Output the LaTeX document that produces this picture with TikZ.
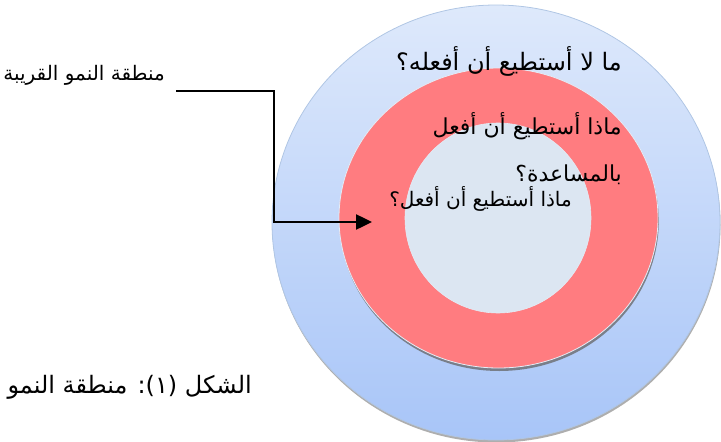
\documentclass[tikz,border=0pt]{standalone}
\usepackage{fontspec}
\usetikzlibrary{shapes.geometric,shadows,arrows.meta}
\newfontfamily\arabicfont[Script=Arabic]{DejaVu Sans}
\TeXXeTstate=1
\definecolor{skytop}{RGB}{222,233,251}
\definecolor{skybot}{RGB}{168,197,248}
\definecolor{skyrim}{RGB}{176,198,228}
\definecolor{rosefill}{RGB}{255,124,128}
\definecolor{corefill}{RGB}{220,230,242}
\definecolor{rimlight}{RGB}{228,236,246}
\tikzset{
  disc/.style={ellipse, inner sep=0pt},
  bigtext/.style={font=\arabicfont\fontsize{24}{28}\selectfont, inner sep=0pt, anchor=base east},
  midtext/.style={font=\arabicfont\fontsize{22}{26}\selectfont, inner sep=0pt, anchor=base east},
  smalltext/.style={font=\arabicfont\fontsize{20}{24}\selectfont, inner sep=0pt, anchor=base east},
  pointer/.style={line width=2.5pt, -{Triangle[length=16pt,width=15pt]}}
}
\begin{document}
\begin{tikzpicture}[x=1pt,y=-1pt]
\useasboundingbox (0,0) rectangle (721,442);
% three nested zones
\node[disc, minimum width=448pt, minimum height=435pt,
      top color=skytop, bottom color=skybot, draw=skyrim, line width=0.8pt,
      drop shadow={shadow xshift=0.5pt, shadow yshift=-2.5pt, fill=black!45, opacity=0.7}]
      (outer) at (496,222.5) {};
\node[disc, minimum width=319pt, minimum height=300pt,
      fill=rosefill, draw=rimlight, line width=0.8pt,
      drop shadow={shadow xshift=0.8pt, shadow yshift=-3pt, fill=black!60, opacity=0.75}]
      (ring) at (498.5,218) {};
\node[disc, minimum width=186pt, minimum height=190pt,
      fill=corefill, draw=rimlight, line width=0.6pt]
      (core) at (498,218) {};
% zone questions
\node[bigtext] (qout) at (622,70) {\beginR ما لا أستطيع أن أفعله؟\endR};
\node[midtext] (qmid) at (622,134) {\beginR ماذا أستطيع أن أفعل\endR};
\node[midtext] (qmidb) at (622,181) {\beginR بالمساعدة؟\endR};
\node[smalltext] (qin) at (572,206) {\beginR ماذا أستطيع أن أفعل؟\endR};
% side label and caption
\node[smalltext] (zpd) at (165,80) {\beginR منطقة النمو القريبة\endR};
\node[bigtext] (cap) at (252,393) {\beginR الشكل (١): منطقة النمو\endR};
% pointer into the middle zone
\coordinate (lead) at (176,91);
\coordinate (bend) at (274,222);
\coordinate (tip) at (372,222);
\draw[pointer] (lead) -- (lead -| bend) |- (tip);
\end{tikzpicture}
\end{document}
